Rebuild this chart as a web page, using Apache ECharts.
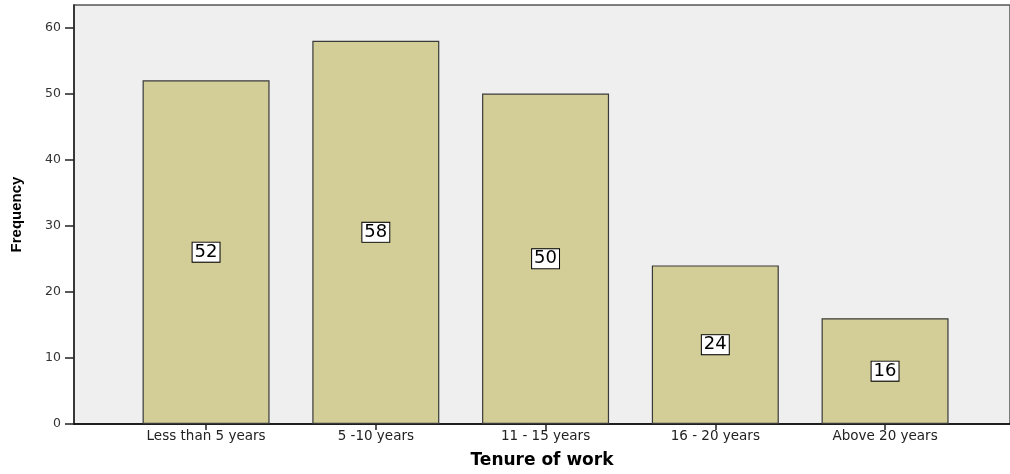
<!DOCTYPE html>
<html><head><meta charset="utf-8">
<script src="https://cdn.jsdelivr.net/npm/echarts@6/dist/echarts.min.js"></script>
<style>html,body{margin:0;padding:0;background:#fff}#c{width:1010px;height:474px}</style>
</head><body><div id="c"></div>
<script>
const categories = ["Less than 5 years", "5 -10 years", "11 - 15 years", "16 - 20 years", "Above 20 years"];
const frequency = [52, 58, 50, 24, 16];
const yTicks = [0, 10, 20, 30, 40, 50, 60];

const chart = echarts.init(document.getElementById('c'));
const idx = categories.map((_, i) => i);
chart.setOption({
  animation: false,
  grid: { left: 74, right: 0, top: 5, bottom: 48, show: true, backgroundColor: '#efefef', borderColor: '#555', borderWidth: 1.5 },
  xAxis: {
    type: 'value', min: -0.778, max: 4.736,
    name: 'Tenure of work', nameLocation: 'middle', nameGap: 28,
    nameTextStyle: { fontFamily: 'DejaVu Sans', fontWeight: 'bold', fontSize: 17, color: '#000' },
    axisLine: { show: true, onZero: false, lineStyle: { color: '#000', width: 1.5 } },
    axisTick: { show: true, customValues: idx, length: 6, lineStyle: { color: '#222', width: 1.5 } },
    axisLabel: { customValues: idx, formatter: v => categories[Math.round(v)] || '', fontFamily: 'DejaVu Sans', fontSize: 13.5, color: '#222', margin: 5 },
    splitLine: { show: false }
  },
  yAxis: {
    type: 'value', min: 0, max: 63.4,
    name: 'Frequency', nameLocation: 'middle', nameRotate: 90, nameGap: 50,
    nameTextStyle: { fontFamily: 'Liberation Sans', fontWeight: 'bold', fontSize: 15, color: '#000' },
    axisLine: { show: true, onZero: false, lineStyle: { color: '#222', width: 1.5 } },
    axisTick: { show: true, customValues: yTicks, length: 9, lineStyle: { color: '#222', width: 1.5 } },
    axisLabel: { customValues: yTicks, fontFamily: 'DejaVu Sans', fontSize: 12.5, color: '#333', margin: 13 },
    splitLine: { show: false }
  },
  series: [{
    type: 'bar',
    data: frequency.map((v, i) => [i, v]),
    barWidth: 127,
    itemStyle: { color: '#d3cd97', borderColor: '#3a3a3a', borderWidth: 1.2 },
    label: {
      show: true, position: 'inside', formatter: p => p.value[1],
      backgroundColor: '#fff', borderColor: '#000', borderWidth: 1,
      padding: [1, 2, 0, 2], fontFamily: 'DejaVu Sans', fontSize: 18, color: '#000'
    }
  }]
});
</script></body></html>
